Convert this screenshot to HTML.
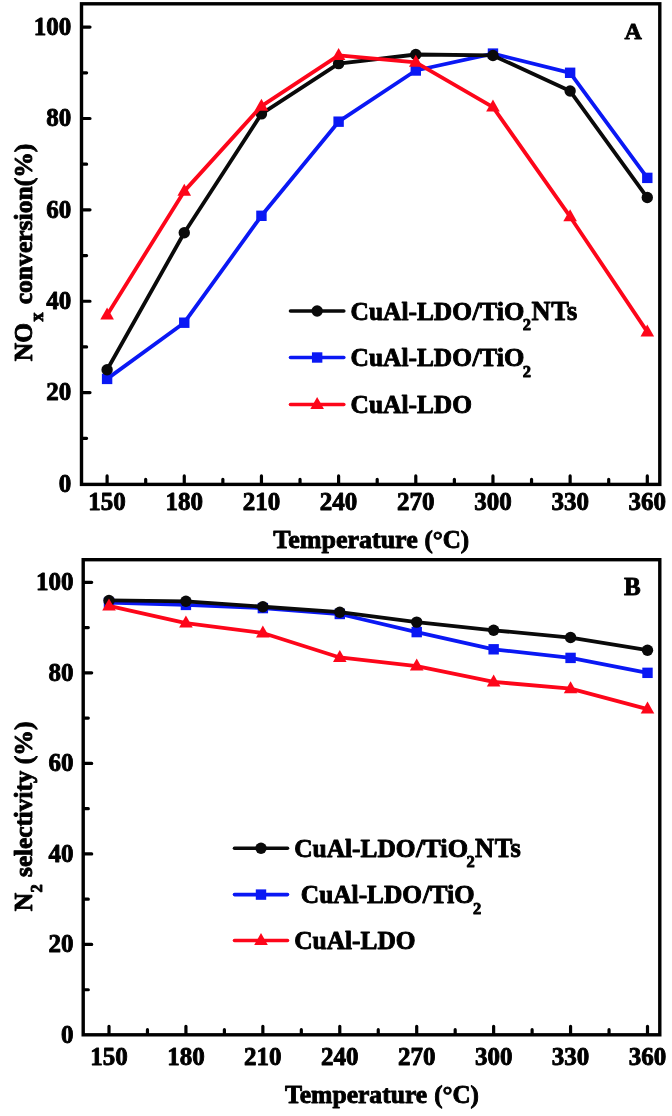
<!DOCTYPE html>
<html><head><meta charset="utf-8"><title>chart</title>
<style>
html,body{margin:0;padding:0;background:#fff;}
svg{display:block;filter:blur(0.4px)}
.t{font-family:"Liberation Serif",serif;font-weight:bold;fill:#000;stroke:#000;stroke-width:0.9px;stroke-linejoin:round}
</style></head><body>
<svg width="672" height="1116" viewBox="0 0 672 1116">
<rect width="672" height="1116" fill="#fff"/>
<g id="panelA">
<rect x="81.5" y="3.8" width="578.3" height="480.6" fill="none" stroke="#000" stroke-width="3.4" stroke-linejoin="miter"/>
<path d="M82.7 438.31h3.9 M82.7 392.62h7.3 M82.7 346.93h3.9 M82.7 301.24h7.3 M82.7 255.55h3.9 M82.7 209.86h7.3 M82.7 164.17h3.9 M82.7 118.48h7.3 M82.7 72.79h3.9 M82.7 27.1h7.3 M107.1 483.2v-7.3 M145.69 483.2v-3.9 M184.27 483.2v-7.3 M222.86 483.2v-3.9 M261.44 483.2v-7.3 M300.03 483.2v-3.9 M338.61 483.2v-7.3 M377.2 483.2v-3.9 M415.79 483.2v-7.3 M454.37 483.2v-3.9 M492.96 483.2v-7.3 M531.54 483.2v-3.9 M570.13 483.2v-7.3 M608.71 483.2v-3.9 M647.3 483.2v-7.3" stroke="#000" stroke-width="3.2" stroke-linecap="round" fill="none"/>
<text x="71.2" y="491.7" text-anchor="end" class="t" font-size="25">0</text>
<text x="71.2" y="400.32" text-anchor="end" class="t" font-size="25">20</text>
<text x="71.2" y="308.94" text-anchor="end" class="t" font-size="25">40</text>
<text x="71.2" y="217.56" text-anchor="end" class="t" font-size="25">60</text>
<text x="71.2" y="126.18" text-anchor="end" class="t" font-size="25">80</text>
<text x="71.2" y="34.8" text-anchor="end" class="t" font-size="25">100</text>
<text x="107.1" y="509.6" text-anchor="middle" class="t" font-size="25">150</text>
<text x="184.27" y="509.6" text-anchor="middle" class="t" font-size="25">180</text>
<text x="261.44" y="509.6" text-anchor="middle" class="t" font-size="25">210</text>
<text x="338.61" y="509.6" text-anchor="middle" class="t" font-size="25">240</text>
<text x="415.79" y="509.6" text-anchor="middle" class="t" font-size="25">270</text>
<text x="492.96" y="509.6" text-anchor="middle" class="t" font-size="25">300</text>
<text x="570.13" y="509.6" text-anchor="middle" class="t" font-size="25">330</text>
<text x="647.3" y="509.6" text-anchor="middle" class="t" font-size="25">360</text>
<polyline points="107.1,378.91 184.27,322.71 261.44,215.8 338.61,121.68 415.79,70.51 492.96,53.6 570.13,72.79 647.3,177.88" fill="none" stroke="#0a18f4" stroke-width="3.8" stroke-linejoin="round"/>
<rect x="101.9" y="373.71" width="10.4" height="10.4" fill="#0a18f4"/>
<rect x="179.07" y="317.51" width="10.4" height="10.4" fill="#0a18f4"/>
<rect x="256.24" y="210.6" width="10.4" height="10.4" fill="#0a18f4"/>
<rect x="333.41" y="116.48" width="10.4" height="10.4" fill="#0a18f4"/>
<rect x="410.59" y="65.31" width="10.4" height="10.4" fill="#0a18f4"/>
<rect x="487.76" y="48.4" width="10.4" height="10.4" fill="#0a18f4"/>
<rect x="564.93" y="67.59" width="10.4" height="10.4" fill="#0a18f4"/>
<rect x="642.1" y="172.68" width="10.4" height="10.4" fill="#0a18f4"/>
<polyline points="107.1,369.77 184.27,232.7 261.44,113.91 338.61,63.65 415.79,54.51 492.96,55.43 570.13,91.07 647.3,197.52" fill="none" stroke="#0a0a0a" stroke-width="3.8" stroke-linejoin="round"/>
<circle cx="107.1" cy="369.77" r="5.7" fill="#0a0a0a"/>
<circle cx="184.27" cy="232.7" r="5.7" fill="#0a0a0a"/>
<circle cx="261.44" cy="113.91" r="5.7" fill="#0a0a0a"/>
<circle cx="338.61" cy="63.65" r="5.7" fill="#0a0a0a"/>
<circle cx="415.79" cy="54.51" r="5.7" fill="#0a0a0a"/>
<circle cx="492.96" cy="55.43" r="5.7" fill="#0a0a0a"/>
<circle cx="570.13" cy="91.07" r="5.7" fill="#0a0a0a"/>
<circle cx="647.3" cy="197.52" r="5.7" fill="#0a0a0a"/>
<polyline points="107.1,314.95 184.27,191.13 261.44,106.14 338.61,55.43 415.79,62.28 492.96,107.06 570.13,216.71 647.3,331.85" fill="none" stroke="#fd061a" stroke-width="3.8" stroke-linejoin="round"/>
<path d="M107.1 307.51L113.9 319.51H100.3Z" fill="#fd061a"/>
<path d="M184.27 183.69L191.07 195.69H177.47Z" fill="#fd061a"/>
<path d="M261.44 98.7L268.24 110.7H254.64Z" fill="#fd061a"/>
<path d="M338.61 47.99L345.41 59.99H331.81Z" fill="#fd061a"/>
<path d="M415.79 54.84L422.59 66.84H408.99Z" fill="#fd061a"/>
<path d="M492.96 99.62L499.76 111.62H486.16Z" fill="#fd061a"/>
<path d="M570.13 209.27L576.93 221.27H563.33Z" fill="#fd061a"/>
<path d="M647.3 324.41L654.1 336.41H640.5Z" fill="#fd061a"/>
<path d="M290.5 311H343.8" stroke="#0a0a0a" stroke-width="3.6" stroke-linecap="round"/>
<circle cx="317.15" cy="311" r="5.7" fill="#0a0a0a"/>
<text x="350.6" y="319.6" class="t" font-size="25.4">CuAl-LDO</text>
<text x="472.5" y="319.6" class="t" font-size="26.2">/TiO</text>
<text x="522.8" y="330.2" class="t" font-size="16.5">2</text>
<text x="531.5" y="319.6" class="t" font-size="26.4"><tspan letter-spacing="0.6">NTs</tspan></text>
<path d="M290.5 357.5H343.8" stroke="#0a18f4" stroke-width="3.6" stroke-linecap="round"/>
<rect x="311.95" y="352.3" width="10.4" height="10.4" fill="#0a18f4"/>
<text x="350.6" y="366.1" class="t" font-size="25.4">CuAl-LDO</text>
<text x="472.5" y="366.1" class="t" font-size="26.2">/TiO</text>
<text x="522.8" y="376.7" class="t" font-size="16.5">2</text>
<path d="M290.5 404.5H343.8" stroke="#fd061a" stroke-width="3.6" stroke-linecap="round"/>
<path d="M317.15 397.06L323.95 409.06H310.35Z" fill="#fd061a"/>
<text x="350.6" y="413.1" class="t" font-size="25.4">CuAl-LDO</text>
<text x="624.6" y="38.9" class="t" font-size="24">A</text>
<text x="273.3" y="547.9" class="t" font-size="26">Temperature</text>
<text x="424.4" y="547.9" class="t" font-size="25">(°C)</text>
<g transform="translate(32 361.2) rotate(-90)">
<text x="0" y="0" class="t" font-size="25.5">NO</text>
<text x="39.7" y="10.5" class="t" font-size="18">x</text>
<text x="56.9" y="0" class="t" font-size="25.6">conversion(%)</text>
</g>
</g>
<g id="panelB">
<rect x="83.2" y="559.7" width="576.6" height="475.1" fill="none" stroke="#000" stroke-width="3.4" stroke-linejoin="miter"/>
<path d="M84.4 989.73h3.9 M84.4 944.46h7.3 M84.4 899.19h3.9 M84.4 853.92h7.3 M84.4 808.65h3.9 M84.4 763.38h7.3 M84.4 718.11h3.9 M84.4 672.84h7.3 M84.4 627.57h3.9 M84.4 582.3h7.3 M109 1033.6v-7.3 M147.46 1033.6v-3.9 M185.93 1033.6v-7.3 M224.39 1033.6v-3.9 M262.86 1033.6v-7.3 M301.32 1033.6v-3.9 M339.79 1033.6v-7.3 M378.25 1033.6v-3.9 M416.71 1033.6v-7.3 M455.18 1033.6v-3.9 M493.64 1033.6v-7.3 M532.11 1033.6v-3.9 M570.57 1033.6v-7.3 M609.04 1033.6v-3.9 M647.5 1033.6v-7.3" stroke="#000" stroke-width="3.2" stroke-linecap="round" fill="none"/>
<text x="73.6" y="1042.7" text-anchor="end" class="t" font-size="25">0</text>
<text x="73.6" y="952.16" text-anchor="end" class="t" font-size="25">20</text>
<text x="73.6" y="861.62" text-anchor="end" class="t" font-size="25">40</text>
<text x="73.6" y="771.08" text-anchor="end" class="t" font-size="25">60</text>
<text x="73.6" y="680.54" text-anchor="end" class="t" font-size="25">80</text>
<text x="73.6" y="590" text-anchor="end" class="t" font-size="25">100</text>
<text x="109" y="1065.4" text-anchor="middle" class="t" font-size="25">150</text>
<text x="185.93" y="1065.4" text-anchor="middle" class="t" font-size="25">180</text>
<text x="262.86" y="1065.4" text-anchor="middle" class="t" font-size="25">210</text>
<text x="339.79" y="1065.4" text-anchor="middle" class="t" font-size="25">240</text>
<text x="416.71" y="1065.4" text-anchor="middle" class="t" font-size="25">270</text>
<text x="493.64" y="1065.4" text-anchor="middle" class="t" font-size="25">300</text>
<text x="570.57" y="1065.4" text-anchor="middle" class="t" font-size="25">330</text>
<text x="647.5" y="1065.4" text-anchor="middle" class="t" font-size="25">360</text>
<polyline points="109,602.67 185.93,604.93 262.86,608.1 339.79,613.99 416.71,632.1 493.64,649.3 570.57,657.9 647.5,672.84" fill="none" stroke="#0a18f4" stroke-width="3.8" stroke-linejoin="round"/>
<rect x="103.8" y="597.47" width="10.4" height="10.4" fill="#0a18f4"/>
<rect x="180.73" y="599.73" width="10.4" height="10.4" fill="#0a18f4"/>
<rect x="257.66" y="602.9" width="10.4" height="10.4" fill="#0a18f4"/>
<rect x="334.59" y="608.79" width="10.4" height="10.4" fill="#0a18f4"/>
<rect x="411.51" y="626.9" width="10.4" height="10.4" fill="#0a18f4"/>
<rect x="488.44" y="644.1" width="10.4" height="10.4" fill="#0a18f4"/>
<rect x="565.37" y="652.7" width="10.4" height="10.4" fill="#0a18f4"/>
<rect x="642.3" y="667.64" width="10.4" height="10.4" fill="#0a18f4"/>
<polyline points="109,600.41 185.93,601.31 262.86,606.75 339.79,612.18 416.71,622.14 493.64,630.29 570.57,637.53 647.5,650.2" fill="none" stroke="#0a0a0a" stroke-width="3.8" stroke-linejoin="round"/>
<circle cx="109" cy="600.41" r="5.7" fill="#0a0a0a"/>
<circle cx="185.93" cy="601.31" r="5.7" fill="#0a0a0a"/>
<circle cx="262.86" cy="606.75" r="5.7" fill="#0a0a0a"/>
<circle cx="339.79" cy="612.18" r="5.7" fill="#0a0a0a"/>
<circle cx="416.71" cy="622.14" r="5.7" fill="#0a0a0a"/>
<circle cx="493.64" cy="630.29" r="5.7" fill="#0a0a0a"/>
<circle cx="570.57" cy="637.53" r="5.7" fill="#0a0a0a"/>
<circle cx="647.5" cy="650.2" r="5.7" fill="#0a0a0a"/>
<polyline points="109,605.84 185.93,623.04 262.86,633 339.79,657.45 416.71,666.05 493.64,681.89 570.57,688.68 647.5,709.06" fill="none" stroke="#fd061a" stroke-width="3.8" stroke-linejoin="round"/>
<path d="M109 598.4L115.8 610.4H102.2Z" fill="#fd061a"/>
<path d="M185.93 615.6L192.73 627.6H179.13Z" fill="#fd061a"/>
<path d="M262.86 625.56L269.66 637.56H256.06Z" fill="#fd061a"/>
<path d="M339.79 650.01L346.59 662.01H332.99Z" fill="#fd061a"/>
<path d="M416.71 658.61L423.51 670.61H409.91Z" fill="#fd061a"/>
<path d="M493.64 674.45L500.44 686.45H486.84Z" fill="#fd061a"/>
<path d="M570.57 681.24L577.37 693.24H563.77Z" fill="#fd061a"/>
<path d="M647.5 701.62L654.3 713.62H640.7Z" fill="#fd061a"/>
<path d="M234.5 848.2H287.5" stroke="#0a0a0a" stroke-width="3.6" stroke-linecap="round"/>
<circle cx="261" cy="848.2" r="5.7" fill="#0a0a0a"/>
<text x="294.2" y="856.8" class="t" font-size="25.4">CuAl-LDO</text>
<text x="416.1" y="856.8" class="t" font-size="26.2">/TiO</text>
<text x="466.4" y="867.4" class="t" font-size="16.5">2</text>
<text x="475.1" y="856.8" class="t" font-size="26.4"><tspan letter-spacing="0.6">NTs</tspan></text>
<path d="M234.5 894.6H287.5" stroke="#0a18f4" stroke-width="3.6" stroke-linecap="round"/>
<rect x="255.8" y="889.4" width="10.4" height="10.4" fill="#0a18f4"/>
<text x="300.8" y="903.2" class="t" font-size="25.4">CuAl-LDO</text>
<text x="422.7" y="903.2" class="t" font-size="26.2">/TiO</text>
<text x="473" y="913.8" class="t" font-size="16.5">2</text>
<path d="M234.5 940.5H287.5" stroke="#fd061a" stroke-width="3.6" stroke-linecap="round"/>
<path d="M261 933.06L267.8 945.06H254.2Z" fill="#fd061a"/>
<text x="294.2" y="949.1" class="t" font-size="25.4">CuAl-LDO</text>
<text x="624" y="594.5" class="t" font-size="25">B</text>
<text x="285" y="1103.2" class="t" font-size="25.6">Temperature</text>
<text x="434.2" y="1103.2" class="t" font-size="25">(°C)</text>
<g transform="translate(32 911.2) rotate(-90)">
<text x="0" y="0" class="t" font-size="25.5">N</text>
<text x="18.6" y="10.3" class="t" font-size="16.5">2</text>
<text x="34.3" y="0" class="t" font-size="25.2">selectivity</text>
<text x="147" y="0" class="t" font-size="25.6">(%)</text>
</g>
</g>
</svg>
</body></html>
